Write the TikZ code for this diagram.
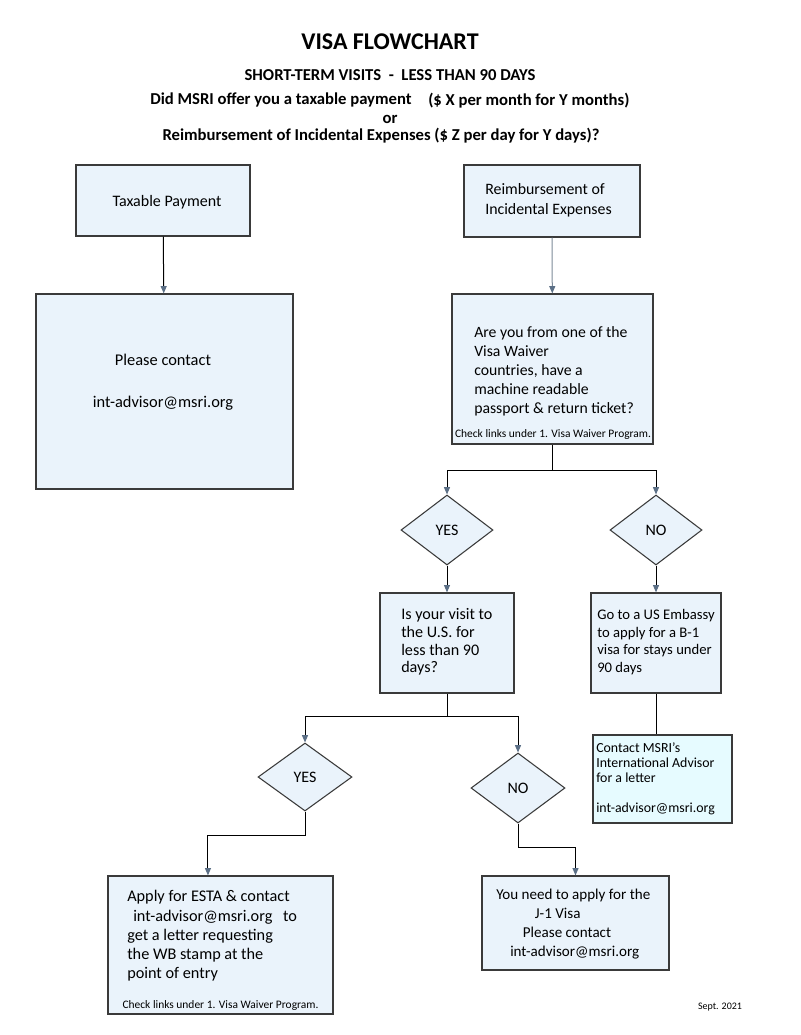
\documentclass[tikz,border=0pt]{standalone}
\usepackage{fontspec}
\setmainfont{Carlito}
\usetikzlibrary{shapes.geometric,arrows.meta,positioning}

\definecolor{boxfill}{HTML}{EAF3FB}
\definecolor{advfill}{HTML}{E6FBFF}
\definecolor{tipcol}{HTML}{5B6F86}
\definecolor{edgecol}{HTML}{3A3A3A}
\definecolor{paleline}{HTML}{7D8B99}

\newcommand{\fs}[2]{\fontsize{#1}{#2}\selectfont}

\tikzset{
  sz/.style 2 args={minimum width=#1*0.75pt, minimum height=#2*0.75pt},
  box/.style={draw=edgecol, fill=boxfill, line width=0.9pt, inner sep=0pt,
    font=\fs{12}{14}},
  choice/.style={diamond, draw=edgecol, fill=boxfill, line width=0.8pt,
    inner sep=0pt, font=\fs{12}{14}},
  txt/.style={align=left, inner sep=0pt, font=\fs{12}{14.3}},
  smalltxt/.style={inner sep=0pt, font=\fs{8.6}{10}},
  head/.style={inner sep=0pt, font=\bfseries\fs{12.5}{14}},
  link/.style={draw=black, line width=0.75pt},
  flow/.style={link, -{Triangle[length=5.5pt,width=4.5pt,color=tipcol]}}
}

\begin{document}
\begin{tikzpicture}[x=0.75pt,y=-0.75pt]

  \fill[white] (0,0) rectangle (800,1035);
  \useasboundingbox (0,0) rectangle (800,1035);

  % headings
  \node[inner sep=0pt, font=\bfseries\fs{18}{20}] (title) at (390,42) {VISA FLOWCHART};
  \node[head] (sub) at (390,75) {SHORT-TERM VISITS\ \ -\ \ LESS THAN 90 DAYS};
  \node[head, anchor=west] (ask1) at (150,100) {Did MSRI offer you a taxable payment};
  \node[head, anchor=west] (ask1b) at (428,101) {(\$ X per month for Y months)};
  \node[head] (ask2) at (390,119) {or};
  \node[head] (ask3) at (381,136) {Reimbursement of Incidental Expenses (\$ Z per day for Y days)?};

  % boxes
  \node[box, sz={174}{71}] (tax) at (163,200.5) {};
  \node[txt] (taxt) at (167,202) {Taxable Payment};
  \node[box, sz={176}{72}] (reimb) at (552,201) {};
  \node[txt, anchor=west, font=\fs{11.9}{15}] (reimbt) at (485,200.5) {Reimbursement of\\Incidental Expenses};

  \node[box, sz={257}{195}] (contact) at (164.5,391.5) {};
  \node[txt, align=center, font=\fs{12.3}{14}] (contactt) at (163,382.5) {Please contact\\[17.5pt]int-advisor@msri.org};

  \node[box, sz={201}{150}] (quest) at (552.5,369) {};
  \node[txt, anchor=west, font=\fs{11.8}{14.3}] (questt) at (474,371) {Are you from one of the\\Visa Waiver\\countries, have a\\machine readable\\passport \& return ticket?};
  \node[smalltxt] (questl) at (553,434) {Check links under 1. Visa Waiver Program.};

  \node[choice, sz={92}{70}] (yes1) at (447,530) {YES};
  \node[choice, sz={92}{70}] (no1) at (656,530) {NO};

  \node[box, sz={134}{100}] (visit) at (447,643) {};
  \node[txt, anchor=west, font=\fs{12.1}{13.3}] (visitt) at (401,642) {Is your visit to\\the U.S. for\\less than 90\\days?};

  \node[box, sz={130}{100}] (embassy) at (656,643) {};
  \node[txt, anchor=west, font=\fs{11}{13.3}] (embassyt) at (597,642) {Go to a US Embassy\\to apply for a B-1\\visa for stays under\\90 days};

  \node[box, fill=advfill, sz={139}{88}] (adv) at (662.5,779) {};
  \node[txt, anchor=west, font=\fs{10.4}{11.25}] (advt) at (596,778.5) {Contact MSRI's\\International Advisor\\for a letter\\[11.25pt]int-advisor@msri.org};

  \node[choice, sz={94}{68}] (yes2) at (305,777) {YES};
  \node[choice, sz={94}{70}] (no2) at (518,788) {NO};

  \node[box, sz={225}{138}] (apply) at (220.5,945) {};
  \node[txt, anchor=west, font=\fs{12.2}{14.4}] (applyt) at (127,936) {Apply for ESTA \& contact\\\hspace*{4.5pt}int-advisor@msri.org\hspace*{8pt}to\\get a letter requesting\\the WB stamp at the\\point of entry};
  \node[smalltxt] (applyl) at (220.5,1005) {Check links under 1. Visa Waiver Program.};

  \node[box, sz={187}{94}] (jvisa) at (575.5,923) {};
  \node[txt, anchor=west, font=\fs{11.3}{14.2}] (jvisat) at (496,924) {You need to apply for the\\\hspace*{29pt}J-1 Visa\\\hspace*{20pt}Please contact\\\hspace*{10.5pt}int-advisor@msri.org};

  \node[smalltxt, font=\fs{7.5}{9}] (date) at (720,1007) {Sept. 2021};

  % connectors
  \draw[flow] (tax) -- (contact);
  \draw[flow, draw=paleline] (reimb) -- (quest);

  \draw[link] (quest.south) -- ++(0,26) coordinate (split1);
  \draw[flow] (split1) -| (yes1.north);
  \draw[flow] (split1) -| (no1.north);

  \draw[flow] (yes1) -- (visit);
  \draw[flow] (no1) -- (embassy);
  \draw[link] (embassy.south) -- (embassy.south |- adv.north);

  \draw[link] (visit.south) -- ++(0,23) coordinate (split2);
  \draw[flow] (split2) -| (yes2.north);
  \draw[flow] (split2) -| (no2.north);

  \draw[flow] (yes2.south) -- ++(0,24) -| ([xshift=-9.4pt]apply.north);
  \draw[flow] (no2.south) -- ++(0,24) -| (jvisa.north);

\end{tikzpicture}
\end{document}
